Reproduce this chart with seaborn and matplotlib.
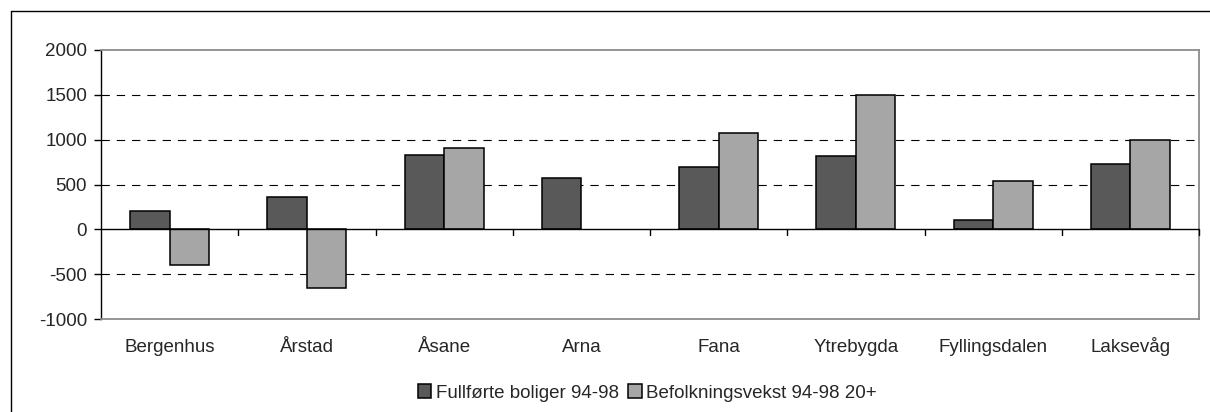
import matplotlib
matplotlib.use("Agg")
import matplotlib.pyplot as plt
from matplotlib.lines import Line2D
import seaborn as sns
import pandas as pd
import numpy as np

categories = ["Bergenhus", "Årstad", "Åsane", "Arna", "Fana", "Ytrebygda", "Fyllingsdalen", "Laksevåg"]
series_names = ["Fullførte boliger 94-98", "Befolkningsvekst 94-98 20+"]
fullforte = [210, 360, 830, 570, 690, 815, 105, 725]
befolkning = [-395, -655, 910, np.nan, 1070, 1495, 535, 1000]
yticks = [-1000, -500, 0, 500, 1000, 1500, 2000]
colors = ["#595959", "#a6a6a6"]

df = pd.DataFrame({
    "Bydel": categories * 2,
    "Serie": [series_names[0]] * len(categories) + [series_names[1]] * len(categories),
    "Verdi": fullforte + befolkning,
})

sns.set_style("white")
plt.rcParams["font.family"] = ["Liberation Sans", "DejaVu Sans"]
plt.rcParams["lines.scale_dashes"] = False

FS = 13.5

fig = plt.figure(figsize=(12.1, 4.12), dpi=100)
ax = fig.add_axes([101 / 1210, 1 - 319 / 412, (1199 - 101) / 1210, (319 - 50) / 412])

sns.barplot(data=df, x="Bydel", y="Verdi", hue="Serie", order=categories,
            hue_order=series_names, palette=colors, saturation=1,
            width=0.576, gap=0, edgecolor="black", linewidth=1.1, ax=ax, zorder=3,
            legend=True)

ax.set_ylim(-1000, 2000)
ax.set_xlim(-0.5, len(categories) - 0.5)
ax.set_yticks(yticks)
ax.set_yticklabels([str(t) for t in yticks], fontsize=FS)
ax.set_xlabel("")
ax.set_ylabel("")
ax.tick_params(axis="y", direction="out", length=5, width=1, color="black", pad=5, left=True)
ax.tick_params(axis="x", length=0, pad=24, labelsize=FS)
for lab in ax.get_xticklabels():
    lab.set_verticalalignment("baseline")

for t in [-500, 500, 1000, 1500]:
    ax.axhline(t, color="black", lw=0.8, linestyle=(0, (6, 5)), zorder=1)
ax.axhline(0, color="black", lw=1.0, zorder=4)

for b in range(1, len(categories) + 1):
    ax.plot([b - 0.5, b - 0.5], [0, -65], color="black", lw=1.0, zorder=4, clip_on=False)

for side in ["top", "right", "bottom"]:
    ax.spines[side].set_color("#8c8c8c")
    ax.spines[side].set_linewidth(1.3)
    ax.spines[side].set_visible(True)
ax.spines["left"].set_color("black")
ax.spines["left"].set_linewidth(1.0)
ax.spines["left"].set_visible(True)

leg = ax.legend(loc="center", bbox_to_anchor=(0.5 * (405 + 890) / 1210, 1 - 393 / 412),
                bbox_transform=fig.transFigure, ncol=2, frameon=False, fontsize=FS,
                handlelength=0.7, handleheight=0.7, handletextpad=0.25, columnspacing=0.5)
for h in leg.legend_handles:
    h.set_edgecolor("black")
    h.set_linewidth(1.1)

# outer chart frame
fig.add_artist(Line2D([10.5 / 1210, 1.0], [1 - 10.5 / 412, 1 - 10.5 / 412],
                      transform=fig.transFigure, color="black", lw=1.0))
fig.add_artist(Line2D([10.5 / 1210, 10.5 / 1210], [0.0, 1 - 10.5 / 412],
                      transform=fig.transFigure, color="black", lw=1.0))

fig.savefig("out.png", dpi=100, facecolor="white")
